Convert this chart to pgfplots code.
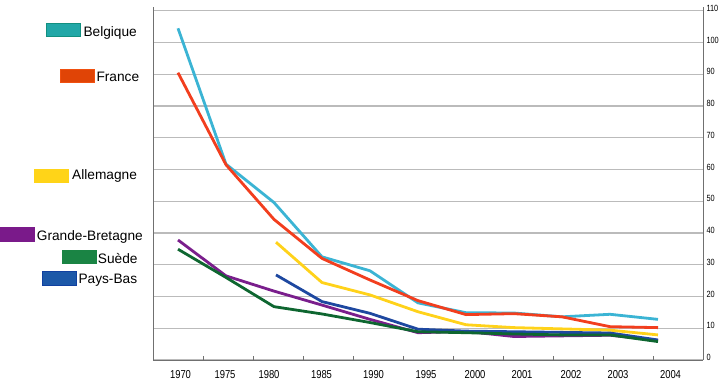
\documentclass[border=0pt]{standalone}
\usepackage{pgfplots}
\pgfplotsset{compat=1.18}
\usepackage{fontspec}
\setmainfont{Liberation Sans}
\newfontfamily\condfont[FakeStretch=0.82]{Liberation Sans}
\definecolor{belL}{HTML}{3BB4D4}
\definecolor{belF}{HTML}{22A8A8}
\definecolor{belB}{HTML}{129080}
\definecolor{fraL}{HTML}{F23E1E}
\definecolor{fraF}{HTML}{E04406}
\definecolor{fraB}{HTML}{F05010}
\definecolor{allL}{HTML}{FFD21A}
\definecolor{allF}{HTML}{FFD418}
\definecolor{gbL}{HTML}{7A1E8C}
\definecolor{gbF}{HTML}{7A1A8A}
\definecolor{sueL}{HTML}{0E6630}
\definecolor{sueF}{HTML}{1A8444}
\definecolor{pbL}{HTML}{1E48A0}
\definecolor{pbF}{HTML}{1C58A8}
\definecolor{pbB}{HTML}{1040A0}
\definecolor{gridc}{HTML}{BBBBBB}
\definecolor{axc}{HTML}{707070}
\begin{document}
\begin{tikzpicture}[x=1pt,y=1pt]
\path[use as bounding box] (0,0) rectangle (723,383);
\begin{axis}[
  at={(153pt,23pt)}, anchor=south west,
  scale only axis, width=550pt, height=353pt,
  xmin=0, xmax=11, ymin=0, ymax=111.2,
  axis x line*=bottom,
  yticklabel pos=right,
  ytick={0,10,...,110},
  ymajorgrids,
  grid style={draw=gridc, line width=1.3pt},
  axis line style={draw=axc, line width=0.9pt},
  tick align=inside,
  major tick length=0pt, minor tick length=4pt,
  every tick/.style={draw=axc, line width=0.8pt},
  xtick={0.55,1.44,2.32,3.37,4.41,5.46,6.44,7.38,8.36,9.30,10.35},
  xticklabels={1970,1975,1980,1985,1990,1995,2000,2001,2002,2003,2004},
  minor xtick={1,2,3,4,5,6,7,8,9,10},
  /pgf/number format/assume math mode=true,
  xticklabel style={font=\condfont\fontsize{11.5}{12}\selectfont, anchor=base, yshift=-18.6pt},
  yticklabel style={font=\condfont\fontsize{9}{10}\selectfont, yshift=2.5pt},
  every axis plot/.append style={line width=2.8pt, line join=round, mark=none},
]
\addplot[belL] coordinates {(0.5,104.5)(1.46,61.7)(2.42,49.6)(3.38,32.5)(4.34,28.1)(5.30,18.0)(6.26,14.9)(7.22,14.8)(8.18,13.6)(9.14,14.4)(10.10,12.8)};
\addplot[fraL] coordinates {(0.5,90.5)(1.46,61.5)(2.42,44.3)(3.38,32.0)(4.34,25.2)(5.30,18.7)(6.26,14.3)(7.22,14.6)(8.18,13.6)(9.14,10.5)(10.10,10.2)};
\addplot[allL] coordinates {(2.46,37.1)(3.38,24.4)(4.34,20.5)(5.30,15.2)(6.26,11.1)(7.22,10.2)(8.18,9.8)(9.14,9.4)(10.10,7.9)};
\addplot[gbL] coordinates {(0.5,37.8)(1.46,26.5)(2.42,21.7)(3.38,17.3)(4.34,12.8)(5.30,8.6)(6.26,9.0)(7.22,7.4)(8.18,7.6)(9.14,7.8)(10.10,6.2)};
\addplot[pbL] coordinates {(2.46,26.8)(3.38,18.4)(4.34,14.7)(5.30,9.7)(6.26,9.1)(7.22,8.9)(8.18,8.7)(9.14,8.5)(10.10,6.3)};
\addplot[sueL] coordinates {(0.5,34.9)(1.46,26.0)(2.42,16.8)(3.38,14.5)(4.34,11.8)(5.30,8.9)(6.26,8.6)(7.22,8.2)(8.18,7.9)(9.14,7.9)(10.10,5.8)};
\end{axis}
% legend
\begin{scope}[font=\fontsize{13.7}{15}\selectfont]
\filldraw[fill=belF, draw=belB, line width=0.8pt] (46,346.3) rectangle (80,359.7);
\node[anchor=base west, inner sep=0pt] at (83.3,346.3) {Belgique};
\filldraw[fill=fraF, draw=fraB, line width=0.8pt] (60,300.7) rectangle (94,314);
\node[anchor=base west, inner sep=0pt] at (96.3,301.3) {France};
\filldraw[fill=allF, draw=allF, line width=0.8pt] (34,200.3) rectangle (68,214);
\node[anchor=base west, inner sep=0pt] at (72,203) {Allemagne};
\filldraw[fill=gbF, draw=gbF, line width=0.8pt] (0,141.3) rectangle (34,155.3);
\node[anchor=base west, inner sep=0pt] at (36.7,142.3) {Grande-Bretagne};
\filldraw[fill=sueF, draw=sueF, line width=0.8pt] (62,119.3) rectangle (96,132.7);
\node[anchor=base west, inner sep=0pt] at (97.7,119.7) {Suède};
\filldraw[fill=pbF, draw=pbB, line width=0.8pt] (42,97.3) rectangle (76,111.3);
\node[anchor=base west, inner sep=0pt] at (78.3,99.7) {Pays-Bas};
\end{scope}
\end{tikzpicture}
\end{document}
